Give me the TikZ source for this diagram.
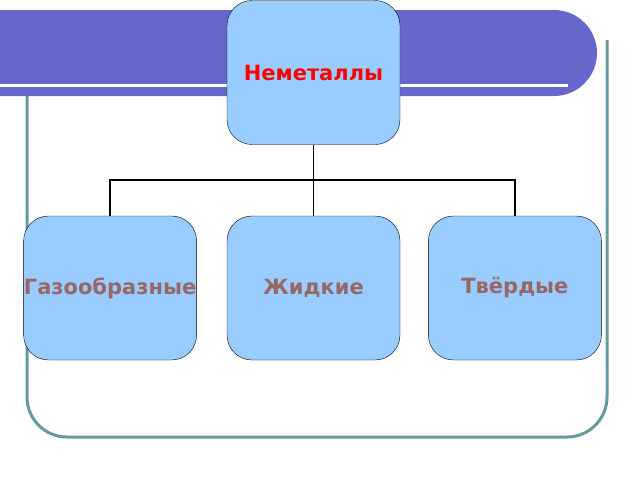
\documentclass[tikz,border=0pt]{standalone}
\usepackage{fontspec}
\setmainfont{DejaVu Sans}
\usetikzlibrary{positioning}
\definecolor{barviolet}{HTML}{6666CC}
\definecolor{frameteal}{HTML}{669999}
\definecolor{boxblue}{HTML}{99CCFF}
\definecolor{textbrown}{HTML}{996666}
\tikzset{
  box/.style={draw=black, fill=boxblue, rounded corners=25pt, minimum width=173pt, minimum height=144pt, inner sep=0pt, font=\bfseries\fontsize{21}{24}\selectfont},
  link/.style={line width=1.6pt}
}
\begin{document}
\begin{tikzpicture}[x=1pt,y=-1pt]
  \useasboundingbox (0,0) rectangle (640,480);
  % Rahmen
  \draw[frameteal, line width=3pt, rounded corners=40pt] (27,96) -- (27,437) -- (607,437) -- (607,40);
  % Balken
  \fill[barviolet] (0,10) -- (554,10) arc[start angle=-90, end angle=90, radius=43] -- (0,96) -- cycle;
  \fill[white] (0,84) rectangle (568,87);

  % Knoten
  \node[box, text=red] (top) at (313.5,72.5) {Неметаллы};
  \node[box, text=textbrown] (liquid) at (313.5,288) {Жидкие};
  \node[box, text=textbrown, left=30pt of liquid] (gas) {Газообразные};
  \node[box, text=textbrown, right=28pt of liquid] (solid) {Твёрдые};

  % Verbindungen
  \coordinate (fork) at ([yshift=-35pt]top.south);
  \draw[link] (top) -- (liquid);
  \draw[link] (gas) |- (fork) -| (solid);
\end{tikzpicture}
\end{document}
